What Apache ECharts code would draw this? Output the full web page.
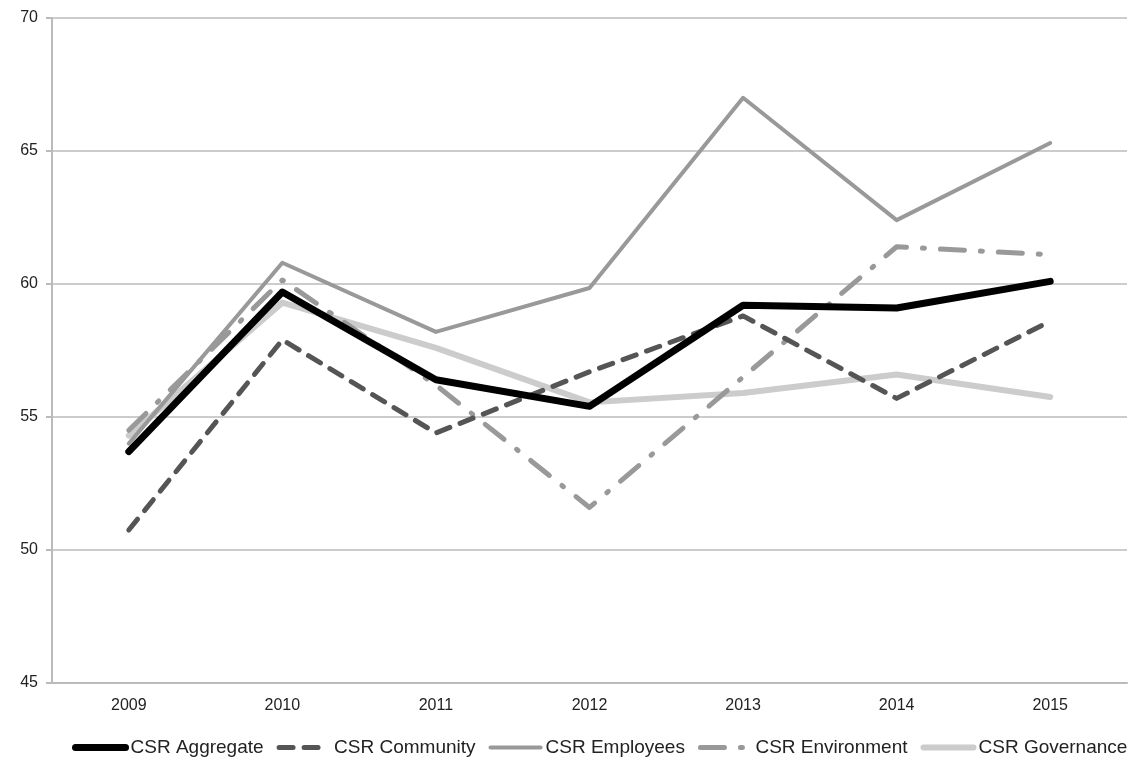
<!DOCTYPE html>
<html><head><meta charset="utf-8">
<script src="https://cdn.jsdelivr.net/npm/echarts@6/dist/echarts.min.js"></script>
<style>html,body{margin:0;padding:0;background:#fff}#c{width:1131px;height:761px}</style>
</head><body><div id="c"></div>
<script>
const years = ['2009','2010','2011','2012','2013','2014','2015'];
const yTicks = [45, 50, 55, 60, 65, 70];
const aggregate   = [53.7, 59.7, 56.4, 55.4, 59.2, 59.1, 60.1];
const community   = [50.75, 57.9, 54.4, 56.7, 58.8, 55.7, 58.6];
const employees   = [54.0, 60.8, 58.2, 59.85, 67.0, 62.4, 65.3];
const environment = [54.5, 60.15, 56.2, 51.6, 56.5, 61.4, 61.1];
const governance  = [54.3, 59.3, 57.6, 55.55, 55.9, 56.6, 55.75];
const names = ['CSR Aggregate','CSR Community','CSR Employees','CSR Environment','CSR Governance'];

const chart = echarts.init(document.getElementById('c'));
const font = 'Liberation Sans, Arial, sans-serif';
function s(name, data, color, width, type, z){
  return {name, type:'line', data, symbol:'none', z,
    lineStyle:{color, width, type, cap:'round', join:'round'}, itemStyle:{color}};
}
chart.setOption({
  animation:false,
  grid:{left:52, right:4, top:18, bottom:78},
  legend:{bottom:4, left:72, right:0, padding:[0,0,0,0], itemWidth:50, itemHeight:14, itemGap:13,
    itemStyle:{opacity:0}, lineStyle:{width:'inherit'},
    textStyle:{fontFamily:font, fontSize:19, color:'#222'}, data:names},
  xAxis:{type:'category', data:years, boundaryGap:true,
    axisLine:{lineStyle:{color:'#bbb', width:2}},
    axisTick:{show:false},
    axisLabel:{fontFamily:font, fontSize:16, color:'#222', margin:15}},
  yAxis:{type:'value', min:yTicks[0], max:yTicks[yTicks.length-1], interval:5,
    axisLine:{show:true, lineStyle:{color:'#bbb', width:2}},
    axisTick:{show:true, length:6, lineStyle:{color:'#bbb', width:2}},
    splitLine:{lineStyle:{color:'#ccc', width:2}},
    axisLabel:{fontFamily:font, fontSize:16, color:'#222', margin:14}},
  series:[
    s(names[0], aggregate, '#000', 7, 'solid', 6),
    s(names[1], community, '#555', 5, [14,11], 5),
    s(names[2], employees, '#999', 4, 'solid', 3),
    s(names[3], environment, '#999', 5, [24,16,2,16], 4),
    s(names[4], governance, '#ccc', 6, 'solid', 2)
  ]
});
</script></body></html>
